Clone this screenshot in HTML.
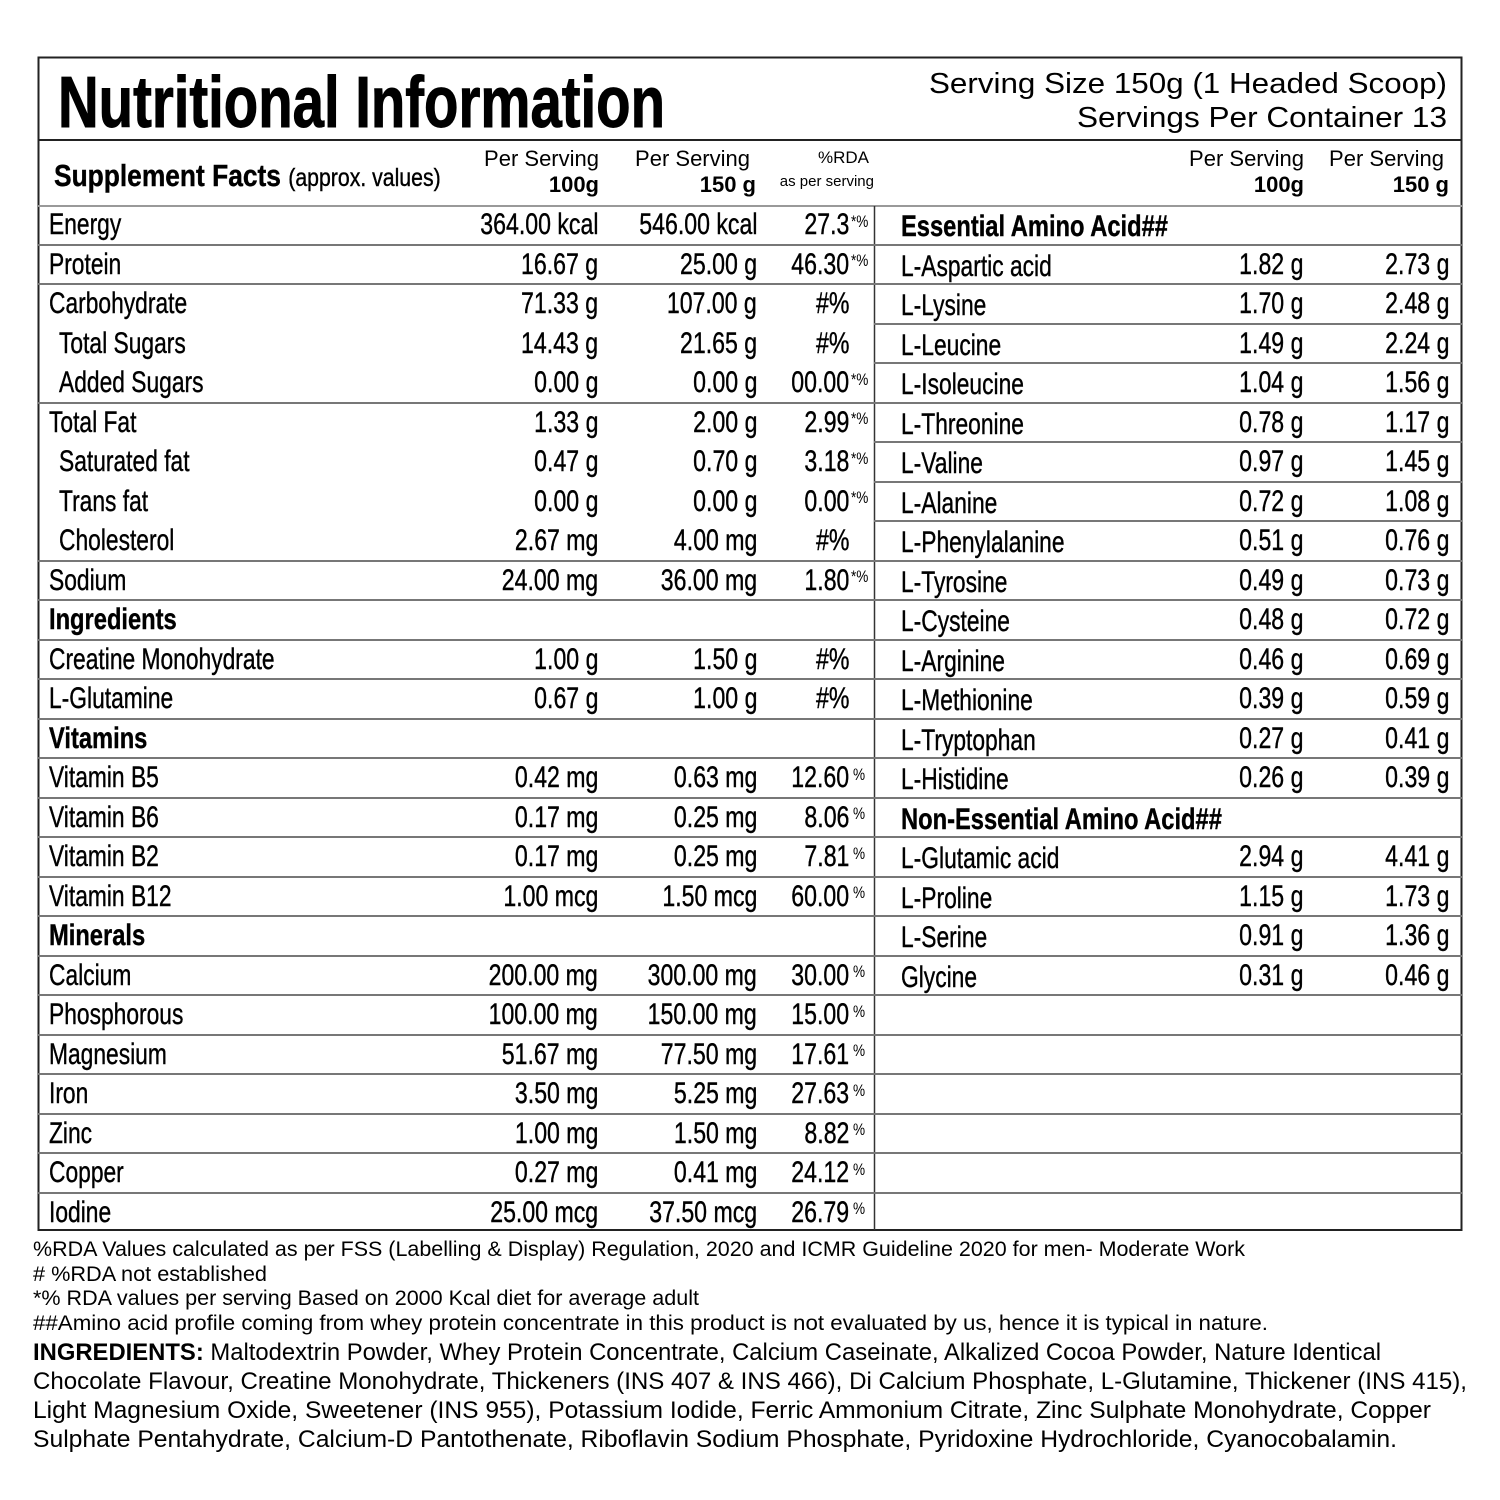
<!DOCTYPE html>
<html><head><meta charset="utf-8"><style>
body{margin:0;width:1500px;height:1500px;background:#fff;position:relative;overflow:hidden;font-family:"Liberation Sans",sans-serif;color:#000}
div{position:absolute;white-space:nowrap}
.L,.R{height:39.5px;line-height:39.5px;font-size:30px;-webkit-text-stroke:0.4px #000}
.L{transform:scaleX(.76);transform-origin:left center}
.R{transform:scaleX(.77);transform-origin:right center;text-align:right}
.b{font-weight:bold;transform:scaleX(.79)}
.S{font-size:17px;transform:scaleX(.8);transform-origin:left center;line-height:17px}
.h{height:1.5px;background:#777}
.hd{font-size:22px;line-height:26px}
</style></head><body>
<svg width="1500" height="1500" style="position:absolute;left:0;top:0">
<rect x="38.5" y="57.5" width="1423" height="1172.5" fill="none" stroke="#222" stroke-width="2"/>
<line x1="38" y1="140" x2="1462" y2="140" stroke="#222" stroke-width="2"/>
<line x1="38" y1="206" x2="1462" y2="206" stroke="#999" stroke-width="2"/>
<line x1="874.5" y1="206" x2="874.5" y2="1230" stroke="#333" stroke-width="1.5"/>
<text x="58" y="127" font-family="Liberation Sans" font-weight="bold" font-size="72" textLength="607" lengthAdjust="spacingAndGlyphs" stroke="#000" stroke-width="1">Nutritional Information</text>
<text x="1447" y="93" text-anchor="end" font-family="Liberation Sans" font-size="29" textLength="518" lengthAdjust="spacingAndGlyphs">Serving Size 150g (1 Headed Scoop)</text>
<text x="1447" y="127" text-anchor="end" font-family="Liberation Sans" font-size="29" textLength="370" lengthAdjust="spacingAndGlyphs">Servings Per Container 13</text>
<g font-family="Liberation Sans" font-size="21">
<text x="33" y="1256" textLength="1212" lengthAdjust="spacingAndGlyphs">%RDA Values calculated as per FSS (Labelling &amp; Display) Regulation, 2020 and ICMR Guideline 2020 for men- Moderate Work</text>
<text x="33" y="1281" textLength="234" lengthAdjust="spacingAndGlyphs"># %RDA not established</text>
<text x="33" y="1305" textLength="666" lengthAdjust="spacingAndGlyphs">*% RDA values per serving Based on 2000 Kcal diet for average adult</text>
<text x="33" y="1330" textLength="1235" lengthAdjust="spacingAndGlyphs">##Amino acid profile coming from whey protein concentrate in this product is not evaluated by us, hence it is typical in nature.</text>
</g>
<g font-family="Liberation Sans" font-size="24">
<text x="33" y="1360" textLength="1348" lengthAdjust="spacingAndGlyphs"><tspan font-weight="bold">INGREDIENTS:</tspan> Maltodextrin Powder, Whey Protein Concentrate, Calcium Caseinate, Alkalized Cocoa Powder, Nature Identical</text>
<text x="33" y="1389" textLength="1434" lengthAdjust="spacingAndGlyphs">Chocolate Flavour, Creatine Monohydrate, Thickeners (INS 407 &amp; INS 466), Di Calcium Phosphate, L-Glutamine, Thickener (INS 415),</text>
<text x="33" y="1418" textLength="1398" lengthAdjust="spacingAndGlyphs">Light Magnesium Oxide, Sweetener (INS 955), Potassium Iodide, Ferric Ammonium Citrate, Zinc Sulphate Monohydrate, Copper</text>
<text x="33" y="1447" textLength="1364" lengthAdjust="spacingAndGlyphs">Sulphate Pentahydrate, Calcium-D Pantothenate, Riboflavin Sodium Phosphate, Pyridoxine Hydrochloride, Cyanocobalamin.</text>
</g>
</svg>

<!-- header -->
<div class="L" style="top:156px;left:54px;font-size:31px;transform:scaleX(.85)"><b>Supplement Facts</b> <span style="font-size:25px">(approx. values)</span></div>
<div class="hd" style="top:146px;right:901px">Per Serving</div>
<div class="hd" style="top:172px;right:901px;font-weight:bold">100g</div>
<div class="hd" style="top:146px;right:750px">Per Serving</div>
<div class="hd" style="top:172px;right:744px;font-weight:bold">150 g</div>
<div style="top:148px;right:631px;font-size:17px">%RDA</div>
<div style="top:173px;right:626px;font-size:15px">as per serving</div>
<div class="hd" style="top:146px;right:196px">Per Serving</div>
<div class="hd" style="top:172px;right:196px;font-weight:bold">100g</div>
<div class="hd" style="top:146px;right:56px">Per Serving</div>
<div class="hd" style="top:172px;right:51px;font-weight:bold">150 g</div>

<!-- left lines -->
<div class="h" style="left:38px;width:836px;top:244px"></div>
<div class="h" style="left:38px;width:836px;top:283px"></div>
<div class="h" style="left:38px;width:836px;top:402px"></div>
<div class="h" style="left:38px;width:836px;top:560px"></div>
<div class="h" style="left:38px;width:836px;top:599px"></div>
<div class="h" style="left:38px;width:836px;top:639px"></div>
<div class="h" style="left:38px;width:836px;top:678px"></div>
<div class="h" style="left:38px;width:836px;top:718px"></div>
<div class="h" style="left:38px;width:836px;top:757px"></div>
<div class="h" style="left:38px;width:836px;top:797px"></div>
<div class="h" style="left:38px;width:836px;top:836px"></div>
<div class="h" style="left:38px;width:836px;top:876px"></div>
<div class="h" style="left:38px;width:836px;top:915px"></div>
<div class="h" style="left:38px;width:836px;top:955px"></div>
<div class="h" style="left:38px;width:836px;top:994px"></div>
<div class="h" style="left:38px;width:836px;top:1034px"></div>
<div class="h" style="left:38px;width:836px;top:1073px"></div>
<div class="h" style="left:38px;width:836px;top:1113px"></div>
<div class="h" style="left:38px;width:836px;top:1152px"></div>
<div class="h" style="left:38px;width:836px;top:1192px"></div>
<!-- right lines -->
<div class="h" style="left:874px;width:588px;top:244px"></div>
<div class="h" style="left:874px;width:588px;top:283px"></div>
<div class="h" style="left:874px;width:588px;top:323px"></div>
<div class="h" style="left:874px;width:588px;top:362px"></div>
<div class="h" style="left:874px;width:588px;top:402px"></div>
<div class="h" style="left:874px;width:588px;top:441px"></div>
<div class="h" style="left:874px;width:588px;top:481px"></div>
<div class="h" style="left:874px;width:588px;top:520px"></div>
<div class="h" style="left:874px;width:588px;top:560px"></div>
<div class="h" style="left:874px;width:588px;top:599px"></div>
<div class="h" style="left:874px;width:588px;top:639px"></div>
<div class="h" style="left:874px;width:588px;top:678px"></div>
<div class="h" style="left:874px;width:588px;top:718px"></div>
<div class="h" style="left:874px;width:588px;top:757px"></div>
<div class="h" style="left:874px;width:588px;top:797px"></div>
<div class="h" style="left:874px;width:588px;top:836px"></div>
<div class="h" style="left:874px;width:588px;top:876px"></div>
<div class="h" style="left:874px;width:588px;top:915px"></div>
<div class="h" style="left:874px;width:588px;top:955px"></div>
<div class="h" style="left:874px;width:588px;top:994px"></div>
<div class="h" style="left:874px;width:588px;top:1034px"></div>
<div class="h" style="left:874px;width:588px;top:1073px"></div>
<div class="h" style="left:874px;width:588px;top:1113px"></div>
<div class="h" style="left:874px;width:588px;top:1152px"></div>
<div class="h" style="left:874px;width:588px;top:1192px"></div>

<!-- left rows -->
<div class="L" style="top:205px;left:49px">Energy</div><div class="R" style="top:205px;right:902px">364.00 kcal</div><div class="R" style="top:205px;right:743px">546.00 kcal</div><div class="R" style="top:205px;right:651px">27.3</div><div class="S" style="top:213px;left:851px">*%</div>
<div class="L" style="top:244.5px;left:49px">Protein</div><div class="R" style="top:244.5px;right:902px">16.67 g</div><div class="R" style="top:244.5px;right:743px">25.00 g</div><div class="R" style="top:244.5px;right:651px">46.30</div><div class="S" style="top:252px;left:851px">*%</div>
<div class="L" style="top:284px;left:49px">Carbohydrate</div><div class="R" style="top:284px;right:902px">71.33 g</div><div class="R" style="top:284px;right:743px">107.00 g</div><div class="R" style="top:284px;right:651px">#%</div>
<div class="L" style="top:323.5px;left:59px">Total Sugars</div><div class="R" style="top:323.5px;right:902px">14.43 g</div><div class="R" style="top:323.5px;right:743px">21.65 g</div><div class="R" style="top:323.5px;right:651px">#%</div>
<div class="L" style="top:363px;left:59px">Added Sugars</div><div class="R" style="top:363px;right:902px">0.00 g</div><div class="R" style="top:363px;right:743px">0.00 g</div><div class="R" style="top:363px;right:651px">00.00</div><div class="S" style="top:371px;left:851px">*%</div>
<div class="L" style="top:402.5px;left:49px">Total Fat</div><div class="R" style="top:402.5px;right:902px">1.33 g</div><div class="R" style="top:402.5px;right:743px">2.00 g</div><div class="R" style="top:402.5px;right:651px">2.99</div><div class="S" style="top:410px;left:851px">*%</div>
<div class="L" style="top:442px;left:59px">Saturated fat</div><div class="R" style="top:442px;right:902px">0.47 g</div><div class="R" style="top:442px;right:743px">0.70 g</div><div class="R" style="top:442px;right:651px">3.18</div><div class="S" style="top:450px;left:851px">*%</div>
<div class="L" style="top:481.5px;left:59px">Trans fat</div><div class="R" style="top:481.5px;right:902px">0.00 g</div><div class="R" style="top:481.5px;right:743px">0.00 g</div><div class="R" style="top:481.5px;right:651px">0.00</div><div class="S" style="top:489px;left:851px">*%</div>
<div class="L" style="top:521px;left:59px">Cholesterol</div><div class="R" style="top:521px;right:902px">2.67 mg</div><div class="R" style="top:521px;right:743px">4.00 mg</div><div class="R" style="top:521px;right:651px">#%</div>
<div class="L" style="top:560.5px;left:49px">Sodium</div><div class="R" style="top:560.5px;right:902px">24.00 mg</div><div class="R" style="top:560.5px;right:743px">36.00 mg</div><div class="R" style="top:560.5px;right:651px">1.80</div><div class="S" style="top:568px;left:851px">*%</div>
<div class="L b" style="top:600px;left:49px">Ingredients</div>
<div class="L" style="top:639.5px;left:49px">Creatine Monohydrate</div><div class="R" style="top:639.5px;right:902px">1.00 g</div><div class="R" style="top:639.5px;right:743px">1.50 g</div><div class="R" style="top:639.5px;right:651px">#%</div>
<div class="L" style="top:679px;left:49px">L-Glutamine</div><div class="R" style="top:679px;right:902px">0.67 g</div><div class="R" style="top:679px;right:743px">1.00 g</div><div class="R" style="top:679px;right:651px">#%</div>
<div class="L b" style="top:718.5px;left:49px">Vitamins</div>
<div class="L" style="top:758px;left:49px">Vitamin B5</div><div class="R" style="top:758px;right:902px">0.42 mg</div><div class="R" style="top:758px;right:743px">0.63 mg</div><div class="R" style="top:758px;right:651px">12.60</div><div class="S" style="top:766px;left:853px">%</div>
<div class="L" style="top:797.5px;left:49px">Vitamin B6</div><div class="R" style="top:797.5px;right:902px">0.17 mg</div><div class="R" style="top:797.5px;right:743px">0.25 mg</div><div class="R" style="top:797.5px;right:651px">8.06</div><div class="S" style="top:805px;left:853px">%</div>
<div class="L" style="top:837px;left:49px">Vitamin B2</div><div class="R" style="top:837px;right:902px">0.17 mg</div><div class="R" style="top:837px;right:743px">0.25 mg</div><div class="R" style="top:837px;right:651px">7.81</div><div class="S" style="top:845px;left:853px">%</div>
<div class="L" style="top:876.5px;left:49px">Vitamin B12</div><div class="R" style="top:876.5px;right:902px">1.00 mcg</div><div class="R" style="top:876.5px;right:743px">1.50 mcg</div><div class="R" style="top:876.5px;right:651px">60.00</div><div class="S" style="top:884px;left:853px">%</div>
<div class="L b" style="top:916px;left:49px">Minerals</div>
<div class="L" style="top:955.5px;left:49px">Calcium</div><div class="R" style="top:955.5px;right:902px">200.00 mg</div><div class="R" style="top:955.5px;right:743px">300.00 mg</div><div class="R" style="top:955.5px;right:651px">30.00</div><div class="S" style="top:963px;left:853px">%</div>
<div class="L" style="top:995px;left:49px">Phosphorous</div><div class="R" style="top:995px;right:902px">100.00 mg</div><div class="R" style="top:995px;right:743px">150.00 mg</div><div class="R" style="top:995px;right:651px">15.00</div><div class="S" style="top:1003px;left:853px">%</div>
<div class="L" style="top:1034.5px;left:49px">Magnesium</div><div class="R" style="top:1034.5px;right:902px">51.67 mg</div><div class="R" style="top:1034.5px;right:743px">77.50 mg</div><div class="R" style="top:1034.5px;right:651px">17.61</div><div class="S" style="top:1042px;left:853px">%</div>
<div class="L" style="top:1074px;left:49px">Iron</div><div class="R" style="top:1074px;right:902px">3.50 mg</div><div class="R" style="top:1074px;right:743px">5.25 mg</div><div class="R" style="top:1074px;right:651px">27.63</div><div class="S" style="top:1082px;left:853px">%</div>
<div class="L" style="top:1113.5px;left:49px">Zinc</div><div class="R" style="top:1113.5px;right:902px">1.00 mg</div><div class="R" style="top:1113.5px;right:743px">1.50 mg</div><div class="R" style="top:1113.5px;right:651px">8.82</div><div class="S" style="top:1121px;left:853px">%</div>
<div class="L" style="top:1153px;left:49px">Copper</div><div class="R" style="top:1153px;right:902px">0.27 mg</div><div class="R" style="top:1153px;right:743px">0.41 mg</div><div class="R" style="top:1153px;right:651px">24.12</div><div class="S" style="top:1161px;left:853px">%</div>
<div class="L" style="top:1192.5px;left:49px">Iodine</div><div class="R" style="top:1192.5px;right:902px">25.00 mcg</div><div class="R" style="top:1192.5px;right:743px">37.50 mcg</div><div class="R" style="top:1192.5px;right:651px">26.79</div><div class="S" style="top:1200px;left:853px">%</div>

<!-- right rows -->
<div class="L b" style="top:207px;left:901px">Essential Amino Acid##</div>
<div class="L" style="top:246.5px;left:901px">L-Aspartic acid</div><div class="R" style="top:244.5px;right:197px">1.82 g</div><div class="R" style="top:244.5px;right:51px">2.73 g</div>
<div class="L" style="top:286px;left:901px">L-Lysine</div><div class="R" style="top:284px;right:197px">1.70 g</div><div class="R" style="top:284px;right:51px">2.48 g</div>
<div class="L" style="top:325.5px;left:901px">L-Leucine</div><div class="R" style="top:323.5px;right:197px">1.49 g</div><div class="R" style="top:323.5px;right:51px">2.24 g</div>
<div class="L" style="top:365px;left:901px">L-Isoleucine</div><div class="R" style="top:363px;right:197px">1.04 g</div><div class="R" style="top:363px;right:51px">1.56 g</div>
<div class="L" style="top:404.5px;left:901px">L-Threonine</div><div class="R" style="top:402.5px;right:197px">0.78 g</div><div class="R" style="top:402.5px;right:51px">1.17 g</div>
<div class="L" style="top:444px;left:901px">L-Valine</div><div class="R" style="top:442px;right:197px">0.97 g</div><div class="R" style="top:442px;right:51px">1.45 g</div>
<div class="L" style="top:483.5px;left:901px">L-Alanine</div><div class="R" style="top:481.5px;right:197px">0.72 g</div><div class="R" style="top:481.5px;right:51px">1.08 g</div>
<div class="L" style="top:523px;left:901px">L-Phenylalanine</div><div class="R" style="top:521px;right:197px">0.51 g</div><div class="R" style="top:521px;right:51px">0.76 g</div>
<div class="L" style="top:562.5px;left:901px">L-Tyrosine</div><div class="R" style="top:560.5px;right:197px">0.49 g</div><div class="R" style="top:560.5px;right:51px">0.73 g</div>
<div class="L" style="top:602px;left:901px">L-Cysteine</div><div class="R" style="top:600px;right:197px">0.48 g</div><div class="R" style="top:600px;right:51px">0.72 g</div>
<div class="L" style="top:641.5px;left:901px">L-Arginine</div><div class="R" style="top:639.5px;right:197px">0.46 g</div><div class="R" style="top:639.5px;right:51px">0.69 g</div>
<div class="L" style="top:681px;left:901px">L-Methionine</div><div class="R" style="top:679px;right:197px">0.39 g</div><div class="R" style="top:679px;right:51px">0.59 g</div>
<div class="L" style="top:720.5px;left:901px">L-Tryptophan</div><div class="R" style="top:718.5px;right:197px">0.27 g</div><div class="R" style="top:718.5px;right:51px">0.41 g</div>
<div class="L" style="top:760px;left:901px">L-Histidine</div><div class="R" style="top:758px;right:197px">0.26 g</div><div class="R" style="top:758px;right:51px">0.39 g</div>
<div class="L b" style="top:799.5px;left:901px">Non-Essential Amino Acid##</div>
<div class="L" style="top:839px;left:901px">L-Glutamic acid</div><div class="R" style="top:837px;right:197px">2.94 g</div><div class="R" style="top:837px;right:51px">4.41 g</div>
<div class="L" style="top:878.5px;left:901px">L-Proline</div><div class="R" style="top:876.5px;right:197px">1.15 g</div><div class="R" style="top:876.5px;right:51px">1.73 g</div>
<div class="L" style="top:918px;left:901px">L-Serine</div><div class="R" style="top:916px;right:197px">0.91 g</div><div class="R" style="top:916px;right:51px">1.36 g</div>
<div class="L" style="top:957.5px;left:901px">Glycine</div><div class="R" style="top:955.5px;right:197px">0.31 g</div><div class="R" style="top:955.5px;right:51px">0.46 g</div>
</body></html>
